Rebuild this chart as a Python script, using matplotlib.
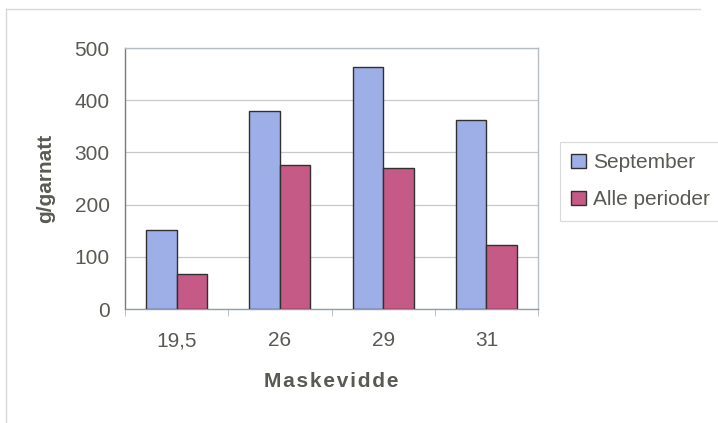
import numpy as np
import matplotlib
matplotlib.use("Agg")
import matplotlib.pyplot as plt
from matplotlib.lines import Line2D

plt.rcParams['font.family'] = ['Liberation Sans', 'DejaVu Sans']

# catch per net night by mesh size
mesh_sizes = ["19,5", "26", "29", "31"]
september = [152, 379, 464, 363]
all_periods = [68, 275, 270, 122]
series_names = ["September", "Alle perioder"]

text_color = "#5a5a55"
blue = "#9eaee6"
pink = "#c65a87"
fs = 15

fig = plt.figure(figsize=(7.18, 4.23), dpi=100)
ax = fig.add_axes([125 / 718, 1 - 309 / 423, 413 / 718, 261 / 423])

x = np.arange(len(mesh_sizes))
w = 0.295
ax.bar(x - w / 2, september, w, color=blue, edgecolor="#303030", linewidth=1.0,
       label=series_names[0], zorder=3)
ax.bar(x + w / 2, all_periods, w, color=pink, edgecolor="#303030", linewidth=1.0,
       label=series_names[1], zorder=3)

ax.set_xlim(-0.5, len(mesh_sizes) - 0.5)
ax.set_ylim(0, 500)
ax.set_yticks(range(0, 501, 100))
ax.yaxis.grid(True, color="#c8c8c8", linewidth=0.9, zorder=0)

ax.set_xticks(x)
ax.set_xticklabels(mesh_sizes)
ax.set_xticks(np.arange(-0.5, len(mesh_sizes)), minor=True)
ax.tick_params(axis="x", which="major", length=0, pad=16, labelsize=fs, labelcolor=text_color)
ax.tick_params(axis="x", which="minor", length=5, direction="out", color="#b0b8bc")
ax.tick_params(axis="y", length=0, pad=11, labelsize=fs, labelcolor=text_color)

for side in ["top", "right"]:
    ax.spines[side].set_color("#b4bec4")
ax.spines["left"].set_color("#7a7a78")
ax.spines["bottom"].set_color("#8aa0ac")
for s in ax.spines.values():
    s.set_linewidth(1.0)

ax.set_ylabel("g/garnatt", fontsize=fs, fontweight="bold", color=text_color, labelpad=14)
ax.set_xlabel("\u200a".join("Maskevidde"), fontsize=fs, fontweight="bold",
              color=text_color, labelpad=16)

leg = fig.legend(loc="upper left", bbox_to_anchor=(560 / 718, 1 - 142 / 423),
                 fontsize=fs, frameon=True, fancybox=False, handlelength=0.72,
                 handleheight=0.7, handletextpad=0.3, borderpad=0.55,
                 labelspacing=0.85, borderaxespad=0)
leg.get_frame().set_edgecolor("#d0d0d0")
leg.get_frame().set_linewidth(0.8)
for t in leg.get_texts():
    t.set_color(text_color)

# outer chart frame (left and top edges)
fig.add_artist(Line2D([6 / 718, 6 / 718], [0, 1 - 9 / 423], color="#d8d8d8", lw=1.0))
fig.add_artist(Line2D([6 / 718, 700 / 718], [1 - 9 / 423, 1 - 9 / 423], color="#d8d8d8", lw=1.0))

fig.savefig("out.png", dpi=100)
